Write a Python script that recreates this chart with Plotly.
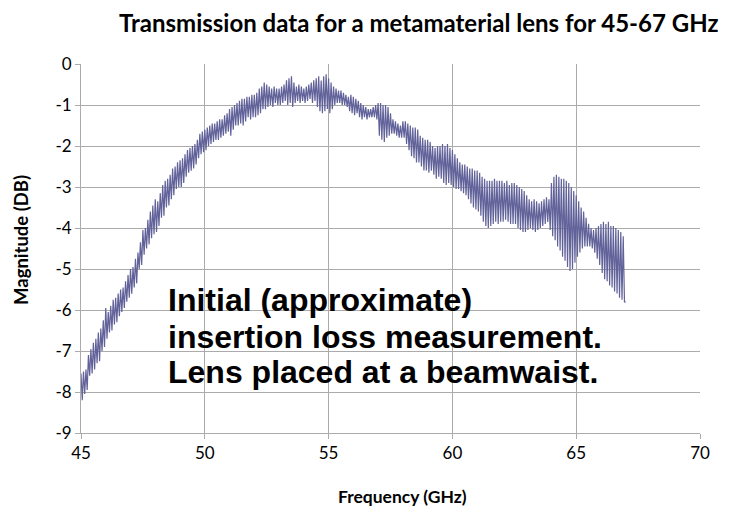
import numpy as np
import plotly.graph_objects as go

# Frequency sweep (GHz): 441 points from 45 to 67 GHz
f_start, f_stop, n_points = 45.0, 67.0, 441

# Magnitude (dB), in groups of 0.5 GHz
magnitude_db = [
    -7.55, -8.2, -7.5, -8.05, -7.45, -7.95, -7.1, -7.6, -6.95, -7.55,
    -6.8, -7.45, -6.7, -7.3, -6.55, -7.25, -6.45, -7.0, -6.25, -6.9,
    -5.95, -6.7, -6.05, -6.55, -5.9, -6.5, -5.75, -6.35, -5.7, -6.3,
    -5.6, -6.15, -5.5, -6.05, -5.45, -5.95, -5.3, -5.8, -5.15, -5.7,
    -5.0, -5.6, -4.95, -5.45, -4.75, -5.35, -4.6, -5.0, -4.35, -4.9,
    -4.05, -4.65, -4.0, -4.5, -3.8, -4.4, -3.6, -4.25, -3.45, -4.15,
    -3.3, -4.1, -3.35, -3.95, -3.15, -3.75, -2.95, -3.7, -2.85, -3.5,
    -2.8, -3.45, -2.7, -3.3, -2.55, -3.2, -2.5, -3.05, -2.4, -3.0,
    -2.35, -3.0, -2.3, -2.9, -2.2, -2.75, -2.1, -2.65, -2.05, -2.6,
    -2.0, -2.55, -1.95, -2.45, -1.85, -2.3, -1.7, -2.2, -1.65, -2.15,
    -1.6, -2.1, -1.55, -2.0, -1.5, -1.95, -1.45, -1.9, -1.45, -1.85,
    -1.4, -1.85, -1.35, -1.8, -1.35, -1.75, -1.25, -1.7, -1.2, -1.65,
    -1.1, -1.75, -1.05, -1.6, -1.0, -1.5, -0.95, -1.5, -0.9, -1.45,
    -0.85, -1.5, -0.85, -1.4, -0.8, -1.3, -0.8, -1.35, -0.75, -1.3,
    -0.75, -1.3, -0.7, -1.25, -0.6, -1.2, -0.55, -1.1, -0.45, -1.1,
    -0.5, -1.05, -0.55, -1.0, -0.6, -1.05, -0.55, -0.95, -0.6, -1.0,
    -0.6, -1.0, -0.55, -0.95, -0.5, -0.9, -0.4, -1.0, -0.35, -0.95,
    -0.3, -1.05, -0.45, -0.95, -0.55, -0.9, -0.5, -0.95, -0.55, -0.9,
    -0.6, -0.95, -0.55, -0.9, -0.5, -0.85, -0.45, -0.95, -0.4, -0.9,
    -0.35, -1.05, -0.3, -1.15, -0.4, -1.2, -0.3, -1.15, -0.25, -1.1,
    -0.35, -1.2, -0.45, -1.1, -0.55, -1.0, -0.6, -0.95, -0.65, -0.95,
    -0.65, -1.0, -0.7, -1.0, -0.75, -1.05, -0.8, -1.15, -0.75, -1.2,
    -0.8, -1.25, -0.85, -1.2, -0.9, -1.3, -0.95, -1.35, -1.0, -1.3,
    -1.05, -1.35, -1.1, -1.3, -1.1, -1.3, -1.05, -1.3, -1.0, -1.35,
    -0.95, -1.75, -0.95, -1.85, -1.0, -1.9, -1.0, -1.8, -1.05, -1.75,
    -1.2, -1.7, -1.35, -1.7, -1.4, -1.75, -1.45, -1.8, -1.5, -1.8,
    -1.4, -1.8, -1.4, -1.95, -1.45, -2.1, -1.5, -2.25, -1.55, -2.3,
    -1.55, -2.4, -1.6, -2.4, -1.75, -2.5, -1.8, -2.6, -1.85, -2.6,
    -1.85, -2.65, -1.9, -2.6, -2.0, -2.7, -2.05, -2.8, -2.0, -2.75,
    -2.0, -2.8, -1.95, -2.9, -2.0, -2.95, -1.95, -2.9, -2.05, -2.95,
    -2.1, -3.0, -2.2, -3.05, -2.3, -3.05, -2.4, -3.1, -2.45, -3.15,
    -2.45, -3.2, -2.5, -3.3, -2.55, -3.4, -2.55, -3.5, -2.6, -3.55,
    -2.6, -3.6, -2.65, -3.7, -2.75, -3.85, -2.8, -3.95, -2.85, -4.0,
    -2.85, -3.95, -2.85, -3.9, -2.8, -3.85, -2.85, -3.9, -2.85, -3.85,
    -2.85, -3.85, -2.9, -3.8, -2.85, -3.85, -2.95, -3.9, -2.9, -3.9,
    -2.9, -3.9, -2.95, -4.0, -3.0, -4.05, -3.05, -4.1, -3.1, -4.1,
    -3.2, -4.05, -3.3, -4.0, -3.35, -4.05, -3.3, -4.1, -3.35, -4.05,
    -3.4, -4.0, -3.35, -3.95, -3.3, -3.9, -3.25, -3.85, -3.3, -4.05,
    -2.9, -4.2, -2.75, -4.3, -2.7, -4.45, -2.75, -4.55, -2.8, -4.7,
    -2.8, -4.8, -2.85, -4.95, -2.9, -5.05, -3.0, -5.0, -3.1, -4.85,
    -3.2, -4.7, -3.35, -4.6, -3.5, -4.5, -3.6, -4.45, -3.75, -4.45,
    -3.9, -4.45, -4.0, -4.5, -4.05, -4.6, -4.0, -4.75, -3.95, -4.9,
    -3.9, -5.1, -3.85, -5.25, -3.9, -5.3, -3.85, -5.4, -3.95, -5.45,
    -3.95, -5.55, -4.0, -5.6, -4.05, -5.7, -4.1, -5.75, -4.2, -5.8,
    -5.8,
]

frequency_ghz = np.linspace(f_start, f_stop, n_points)

x_ticks = [45, 50, 55, 60, 65, 70]
y_ticks = [0, -1, -2, -3, -4, -5, -6, -7, -8, -9]

title_text = "Transmission data for a metamaterial lens for 45-67 GHz"
x_title = "Frequency (GHz)"
y_title = "Magnitude (DB)"
note_lines = ["Initial (approximate)",
              "insertion loss measurement.",
              "Lens placed at a beamwaist."]

W, H = 736, 514
L, T, PW, PH = 73, 56, 619, 369

fig = go.Figure()
fig.add_trace(go.Scatter(
    x=frequency_ghz, y=magnitude_db, mode="lines",
    line=dict(color="rgb(98,98,154)", width=1.2),
    showlegend=False, hoverinfo="skip",
))

grid = "#ABABAB"
font_fam = "Lato, 'Open Sans', sans-serif"
fig.update_layout(
    width=W, height=H,
    margin=dict(l=L, r=W - L - PW, t=T, b=H - T - PH),
    paper_bgcolor="white", plot_bgcolor="white",
    font=dict(family=font_fam, size=17, color="black"),
    xaxis=dict(range=[45, 70], tickvals=x_ticks, ticktext=[str(t) for t in x_ticks],
               showgrid=True, gridcolor=grid, gridwidth=1,
               showline=True, linecolor=grid, linewidth=1,
               ticks="outside", ticklen=5, tickcolor=grid,
               zeroline=False, tickfont=dict(size=17)),
    yaxis=dict(range=[-9, 0], tickvals=y_ticks, ticktext=[str(t) for t in y_ticks],
               showgrid=True, gridcolor=grid, gridwidth=1,
               showline=True, linecolor=grid, linewidth=1,
               ticks="outside", ticklen=5, tickcolor=grid,
               zeroline=False, tickfont=dict(size=17)),
)

def px_x(p):
    return (p - L) / PW

def px_y(p):
    return (T + PH - p) / PH

# title
fig.add_annotation(text="<b>" + title_text + "</b>", xref="paper", yref="paper",
                   x=px_x(410), y=px_y(14), xanchor="center", yanchor="middle",
                   showarrow=False, font=dict(family=font_fam, size=24, color="black"))
# axis titles
fig.add_annotation(text="<b>" + x_title + "</b>", xref="paper", yref="paper",
                   x=px_x(394), y=px_y(488), xanchor="center", yanchor="middle",
                   showarrow=False, font=dict(family=font_fam, size=17.5, color="black"))
fig.add_annotation(text="<b>" + y_title + "</b>", xref="paper", yref="paper",
                   x=px_x(13), y=px_y(232), xanchor="center", yanchor="middle",
                   textangle=-90, showarrow=False,
                   font=dict(family=font_fam, size=18.5, color="black"))
# note, one annotation per line
for line, yc in zip(note_lines, [292, 329, 364]):
    fig.add_annotation(
        text="<b>" + line + "</b>", xref="paper", yref="paper",
        x=px_x(158), y=px_y(yc), xanchor="left", yanchor="middle",
        align="left", showarrow=False,
        font=dict(family="Liberation Sans", size=32, color="black"),
    )

fig.write_html("out.html")
